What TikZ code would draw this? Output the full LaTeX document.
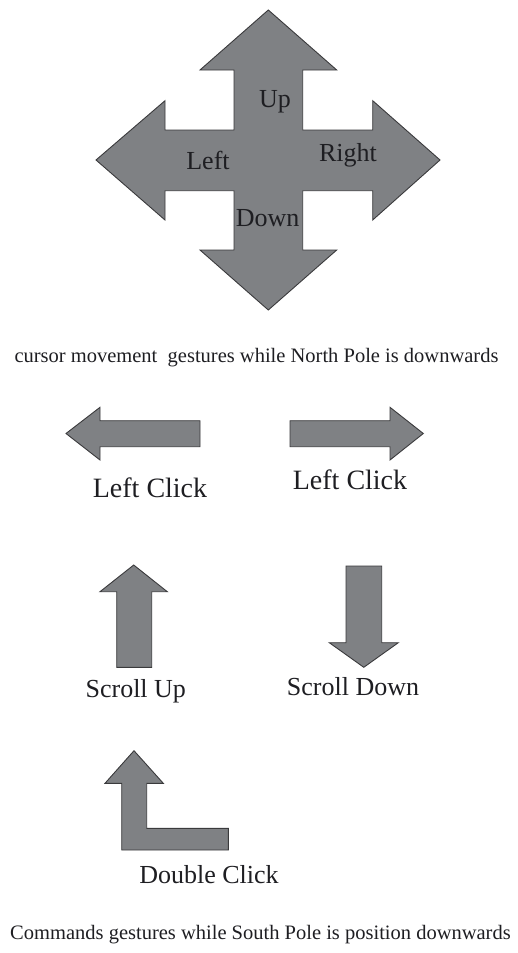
\documentclass[tikz,border=0pt]{standalone}
\usepackage{fontspec}
\setmainfont{Liberation Serif}
\definecolor{arrowgray}{RGB}{127,129,132}
\definecolor{edgegray}{RGB}{58,58,60}
\definecolor{inkcol}{RGB}{30,30,34}
\tikzset{
  arrowshape/.style={fill=arrowgray, draw=edgegray, line width=0.9pt, line join=miter},
  lbl/.style={inner sep=0pt, text=inkcol, font=\fontsize{26}{30}\selectfont},
  biglbl/.style={lbl, font=\fontsize{28}{32}\selectfont},
  caption/.style={inner sep=0pt, text=inkcol, font=\fontsize{20.5}{24}\selectfont}
}
\begin{document}
\begin{tikzpicture}[x=1pt, y=-1pt]
  \useasboundingbox (0,0) rectangle (517,953);

  % four-way cursor cross
  \path[arrowshape] (268.3,10) -- (336.7,70) -- (302.7,70) -- (302.7,130)
    -- (372.7,130) -- (372.7,100.7) -- (440,160) -- (372.7,220) -- (372.7,190.7)
    -- (302.7,190.7) -- (302.7,250) -- (336.7,250) -- (268.3,310) -- (200,250)
    -- (234,250) -- (234,190.7) -- (165,190.7) -- (165,220) -- (96,160)
    -- (165,100.7) -- (165,130) -- (234,130) -- (234,70) -- (200,70) -- cycle;
  \node[lbl] (up)    at (275,101.7) {Up};
  \node[lbl] (left)  at (208,160)   {Left};
  \node[lbl] (right) at (348,155)   {Right};
  \node[lbl] (down)  at (267.7,218) {Down};

  \node[caption] (cap1) at (256.5,358)
    {cursor movement\ \ gestures\ while North Pole is\ downwards};

  % click arrows
  \path[arrowshape] (66,433.5) -- (100,407.3) -- (100,420.7) -- (200,420.7)
    -- (200,446.7) -- (100,446.7) -- (100,460) -- cycle;
  \path[arrowshape] (290,420.7) -- (390,420.7) -- (390,407.3) -- (423.3,433.5)
    -- (390,460) -- (390,446.7) -- (290,446.7) -- cycle;
  \node[biglbl] (lc1) at (150,488) {Left Click};
  \node[biglbl] (lc2) at (350,480) {Left Click};

  % scroll arrows
  \path[arrowshape] (133.7,565) -- (167.3,591.7) -- (151.7,591.7) -- (151.7,667.3)
    -- (116.7,667.3) -- (116.7,591.7) -- (100,591.7) -- cycle;
  \path[arrowshape] (346,566) -- (381.7,566) -- (381.7,642.7) -- (398.3,642.7)
    -- (363.8,667.3) -- (329.3,642.7) -- (346,642.7) -- cycle;
  \node[lbl] (su) at (135.8,691.7) {Scroll Up};
  \node[lbl] (sd) at (353,686.7) {Scroll Down};

  % double click arrow
  \path[arrowshape] (134,750.7) -- (163.3,783.3) -- (146.7,783.3) -- (146.7,828.3)
    -- (228.3,828.3) -- (228.3,850) -- (121.7,850) -- (121.7,783.3) -- (105,783.3) -- cycle;
  \node[lbl] (dc) at (209,875) {Double Click};

  \node[caption] (cap2) at (260.5,935)
    {Commands\ gestures\ while South Pole is position\ downwards};
\end{tikzpicture}
\end{document}
